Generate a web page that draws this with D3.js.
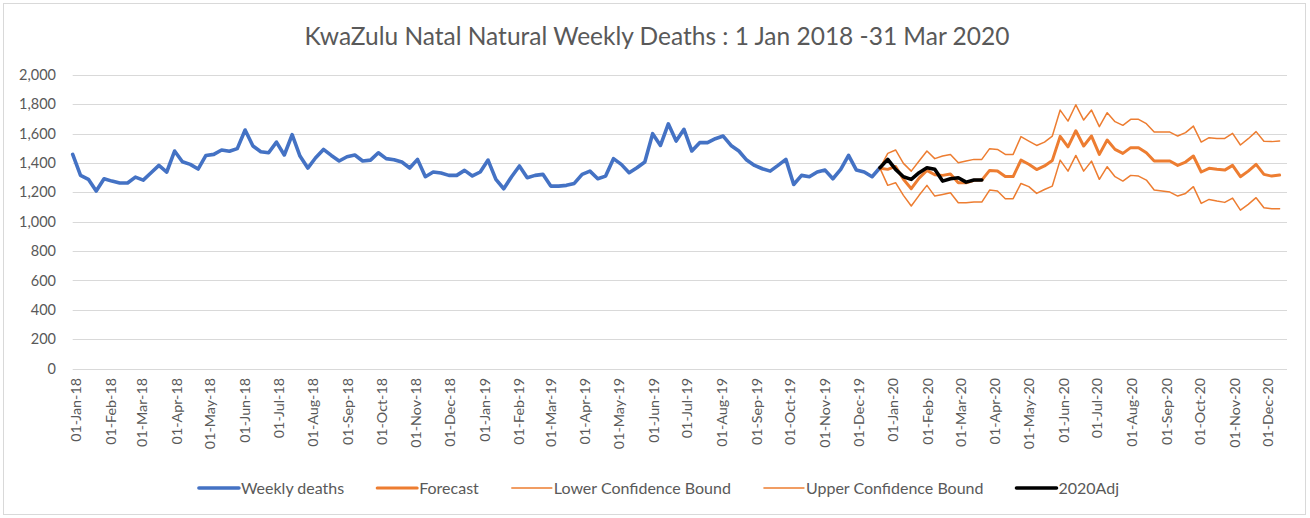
<!DOCTYPE html>
<html>
<head>
<meta charset="utf-8">
<script src="https://cdn.jsdelivr.net/npm/d3@7"></script>
<style>
  body { margin: 0; background: #fff; }
  svg text { font-family: Lato, "Open Sans", sans-serif; fill: #595959; }
</style>
</head>
<body>
<div id="chart"></div>
<script>
const width = 1310,
  height = 518;

// weekly categories: 155 weeks starting 29 Dec 2017
const firstWeek = new Date(2017, 11, 29);
const weekCount = 155;

const weeklyDeaths = [
  1459, 1316, 1289, 1209, 1293, 1277, 1264, 1264, 1304, 1284, 1334, 1384, 1339,
  1482, 1409, 1391, 1359, 1452, 1459, 1489, 1480, 1498, 1625, 1516, 1477, 1470,
  1543, 1455, 1593, 1448, 1366, 1436, 1493, 1452, 1414, 1443, 1455, 1414, 1420,
  1470, 1430, 1423, 1407, 1366, 1425, 1307, 1339, 1332, 1316, 1316, 1350, 1312,
  1339, 1420, 1289, 1225, 1307, 1380, 1300, 1316, 1323, 1243, 1243, 1248, 1261,
  1323, 1345, 1293, 1311, 1430, 1391, 1334, 1368, 1407, 1600, 1520, 1667, 1550,
  1630, 1482, 1539, 1539, 1566, 1584, 1520, 1482, 1420, 1384, 1361, 1345, 1384,
  1425, 1254, 1316, 1307, 1339, 1352, 1293, 1357, 1452, 1352, 1339, 1307, 1368
];

// forecast series start at week 103
const forecastStart = 103;
const forecast = [
  1365, 1357, 1377, 1290, 1225, 1297, 1350, 1320, 1316, 1325, 1266, 1265, 1282,
  1284, 1350, 1346, 1308, 1308, 1420, 1392, 1356, 1380, 1418, 1582, 1510, 1620,
  1516, 1584, 1459, 1557, 1493, 1466, 1505, 1505, 1470, 1414, 1414, 1414, 1384,
  1407, 1448, 1339, 1364, 1357, 1352, 1384, 1307, 1345, 1391, 1323, 1311, 1318
];
const lowerBound = [
  1365, 1248, 1266, 1180, 1107, 1180, 1248, 1175, 1186, 1198, 1130, 1130, 1134,
  1134, 1216, 1209, 1157, 1157, 1261, 1239, 1193, 1220, 1243, 1420, 1345, 1452,
  1345, 1413, 1289, 1375, 1307, 1277, 1316, 1311, 1284, 1216, 1209, 1202, 1175,
  1193, 1239, 1125, 1152, 1141, 1132, 1161, 1079, 1118, 1164, 1095, 1089, 1089
];
const upperBound = [
  1365, 1466, 1489, 1398, 1345, 1414, 1482, 1430, 1448, 1459, 1402, 1414, 1425,
  1425, 1498, 1493, 1459, 1459, 1580, 1550, 1520, 1543, 1584, 1761, 1686, 1797,
  1693, 1761, 1648, 1743, 1682, 1657, 1698, 1698, 1668, 1611, 1611, 1611, 1584,
  1607, 1652, 1543, 1573, 1568, 1568, 1602, 1523, 1566, 1614, 1548, 1546, 1550
];
const adj2020 = [
  1368, 1425, 1357, 1307, 1289, 1334, 1368, 1357, 1277, 1293, 1300, 1270, 1284,
  1284
];

const yTicks = [0, 200, 400, 600, 800, 1000, 1200, 1400, 1600, 1800, 2000];
const titleText = "KwaZulu Natal Natural Weekly Deaths : 1 Jan 2018 -31 Mar 2020";

const weeks = d3.range(weekCount).map((i) => d3.timeDay.offset(firstWeek, 7 * i));

const plotLeft = 72.7,
  plotRight = 1287,
  plotTop = 75,
  plotBottom = 368.5;

const x = d3
  .scaleTime()
  .domain([weeks[0], weeks[weekCount - 1]])
  .range([plotLeft, 1279.6]);
const y = d3.scaleLinear().domain([0, 2000]).range([plotBottom, plotTop]);

const svg = d3
  .select("#chart")
  .append("svg")
  .attr("width", width)
  .attr("height", height);

svg
  .append("rect")
  .attr("x", 3.5)
  .attr("y", 3.5)
  .attr("width", 1302)
  .attr("height", 511)
  .attr("fill", "#fff")
  .attr("stroke", "#D9D9D9");

svg
  .append("text")
  .attr("x", 657)
  .attr("y", 45)
  .attr("text-anchor", "middle")
  .style("font-size", "24.5px")
  .text(titleText);

// gridlines + y labels
const yAxis = svg.append("g");
yAxis
  .selectAll("line")
  .data(yTicks)
  .enter()
  .append("line")
  .attr("x1", plotLeft)
  .attr("x2", plotRight)
  .attr("y1", (d) => Math.round(y(d)) + 0.5)
  .attr("y2", (d) => Math.round(y(d)) + 0.5)
  .attr("stroke", "#D9D9D9")
  .attr("stroke-width", 1);
yAxis
  .selectAll("text")
  .data(yTicks)
  .enter()
  .append("text")
  .attr("x", 56)
  .attr("y", (d) => y(d))
  .attr("dy", "0.35em")
  .attr("text-anchor", "end")
  .style("font-size", "14.5px")
  .text(d3.format(","));

// x labels, one per month
const months = d3.timeMonth.range(new Date(2018, 0, 1), new Date(2021, 0, 1));
const fmt = d3.timeFormat("%d-%b-%y");
svg
  .append("g")
  .selectAll("text")
  .data(months)
  .enter()
  .append("text")
  .attr("transform", (d) => `translate(${x(d)},378) rotate(-90)`)
  .attr("text-anchor", "end")
  .attr("dy", "0.35em")
  .style("font-size", "14.3px")
  .text(fmt);

const line = d3
  .line()
  .x((d) => x(d[0]))
  .y((d) => y(d[1]))
  .curve(d3.curveLinear);

const pairs = (vals, offset) => vals.map((v, i) => [weeks[offset + i], v]);

const series = [
  { name: "Weekly deaths", data: pairs(weeklyDeaths, 0), color: "#4472C4", w: 3.6 },
  { name: "Forecast", data: pairs(forecast, forecastStart), color: "#ED7D31", w: 3 },
  { name: "Lower Confidence Bound", data: pairs(lowerBound, forecastStart), color: "#ED7D31", w: 1.5 },
  { name: "Upper Confidence Bound", data: pairs(upperBound, forecastStart), color: "#ED7D31", w: 1.5 },
  { name: "2020Adj", data: pairs(adj2020, forecastStart), color: "#000000", w: 3.6 },
];

svg
  .append("g")
  .selectAll("path")
  .data(series)
  .enter()
  .append("path")
  .attr("d", (d) => line(d.data))
  .attr("fill", "none")
  .attr("stroke", (d) => d.color)
  .attr("stroke-width", (d) => d.w)
  .attr("stroke-linejoin", "round")
  .attr("stroke-linecap", "round");

// legend, laid out left to right then centred
const legend = svg.append("g");
let cursor = 0;
series.forEach((s) => {
  const g = legend.append("g").attr("transform", `translate(${cursor},0)`);
  g.append("line")
    .attr("x1", 0)
    .attr("x2", 40)
    .attr("stroke", s.color)
    .attr("stroke-width", s.w)
    .attr("stroke-linecap", "round");
  const t = g
    .append("text")
    .attr("x", 42)
    .attr("dy", "0.35em")
    .style("font-size", "16px")
    .text(s.name);
  cursor += 42 + t.node().getComputedTextLength() + 33;
});
const legendWidth = cursor - 33;
legend.attr("transform", `translate(${659 - legendWidth / 2},488)`);
</script>
</body>
</html>
